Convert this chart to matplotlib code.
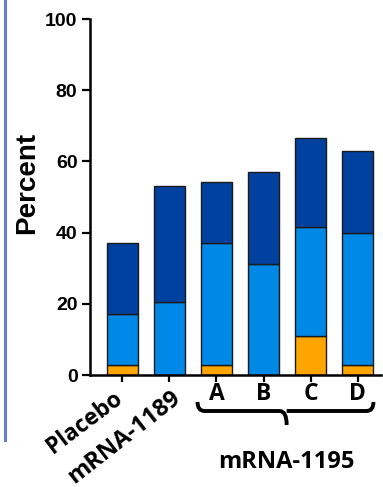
import matplotlib
matplotlib.use("Agg")
import matplotlib.pyplot as plt
import numpy as np
from matplotlib.path import Path
from matplotlib.patches import PathPatch
from matplotlib.lines import Line2D
from matplotlib.transforms import blended_transform_factory

# Stacked percentages per group
groups = ["Placebo", "mRNA-1189", "A", "B", "C", "D"]
orange_vals = [2.7, 0.0, 2.7, 0.0, 11.0, 2.7]
light_tops = [17.0, 20.4, 37.0, 31.2, 41.5, 39.8]
totals = [37.1, 53.0, 54.2, 57.0, 66.7, 63.0]
yticks = [0, 20, 40, 60, 80, 100]
bracket_label = "mRNA-1195"

c_dark = "#0041a0"
c_light = "#0088e6"
c_orange = "#ffa500"

W, H = 383, 487
fig = plt.figure(figsize=(W / 100, H / 100), dpi=100)
ax = fig.add_axes([90 / W, 1 - 375 / H, (381 - 90) / W, (375 - 19) / H])

x = np.arange(len(groups))
light_h = [lt - o for lt, o in zip(light_tops, orange_vals)]
dark_h = [t - lt for t, lt in zip(totals, light_tops)]
bw = 0.66
kw = dict(width=bw, edgecolor="#1a1a1a", linewidth=1.0)
ax.bar(x, orange_vals, color=c_orange, **kw)
ax.bar(x, light_h, bottom=orange_vals, color=c_light, **kw)
ax.bar(x, dark_h, bottom=light_tops, color=c_dark, **kw)

ax.set_xlim(-0.68, 5.49)
ax.set_ylim(0, 100)
ax.set_yticks(yticks)
ax.set_yticklabels([str(v) for v in yticks], fontsize=14, fontweight="bold",
                   family="Liberation Sans")
for s in ["top", "right"]:
    ax.spines[s].set_visible(False)
for s in ["left", "bottom"]:
    ax.spines[s].set_linewidth(1.8)
ax.tick_params(axis="y", length=6, width=1.6, pad=3)
ax.tick_params(axis="x", length=5, width=1.6)
ax.set_xticks(x)
ax.set_xticklabels([])

fig.text(27 / W, 1 - 183 / H, "Percent", rotation=90, ha="center", va="center",
         fontsize=20, fontweight="bold", family="Liberation Sans")

# Category labels
tf = blended_transform_factory(ax.transData, fig.transFigure)
def fy(p):
    return 1 - p / H

ax.text(0.03, fy(401), groups[0], transform=tf, rotation=37, ha="right", va="baseline",
        rotation_mode="anchor", fontsize=16.3, fontweight="bold", family="Open Sans")
ax.text(1.27, fy(400), groups[1], transform=tf, rotation=38, ha="right", va="baseline",
        rotation_mode="anchor", fontsize=17, fontweight="bold", family="Open Sans")
for i, g in enumerate(groups[2:], start=2):
    ax.text(i, fy(400), g, transform=tf, ha="center", va="baseline",
            fontsize=16.5, fontweight="bold", family="Open Sans")

# Curly bracket grouping the mRNA-1195 variants
xl, xr, xm = 1.60, 5.33, 3.49
dx = 0.15
yb = 411
verts = [
    (xl, fy(402)), (xl, fy(yb)), (xl + dx, fy(yb)),
    (xm - dx, fy(yb)), (xm, fy(yb)), (xm, fy(425)),
    (xm, fy(yb)), (xm + dx, fy(yb)),
    (xr - dx, fy(yb)), (xr, fy(yb)), (xr, fy(402)),
]
codes = [Path.MOVETO, Path.CURVE3, Path.CURVE3,
         Path.LINETO, Path.CURVE3, Path.CURVE3,
         Path.MOVETO, Path.LINETO,
         Path.LINETO, Path.CURVE3, Path.CURVE3]
brace = PathPatch(Path(verts, codes), transform=tf, fill=False, lw=2.8,
                  edgecolor="black", clip_on=False, capstyle="butt")
fig.add_artist(brace)
fig.text(286 / W, fy(468), bracket_label, ha="center", va="baseline", fontsize=17,
         fontweight="bold", family="Open Sans")

# Slide-style rule on the left edge
fig.add_artist(Line2D([5 / W, 5 / W], [fy(440), 1.0], transform=fig.transFigure,
                      color="#6580c8", lw=2.2))

fig.savefig("out.png", dpi=100)
